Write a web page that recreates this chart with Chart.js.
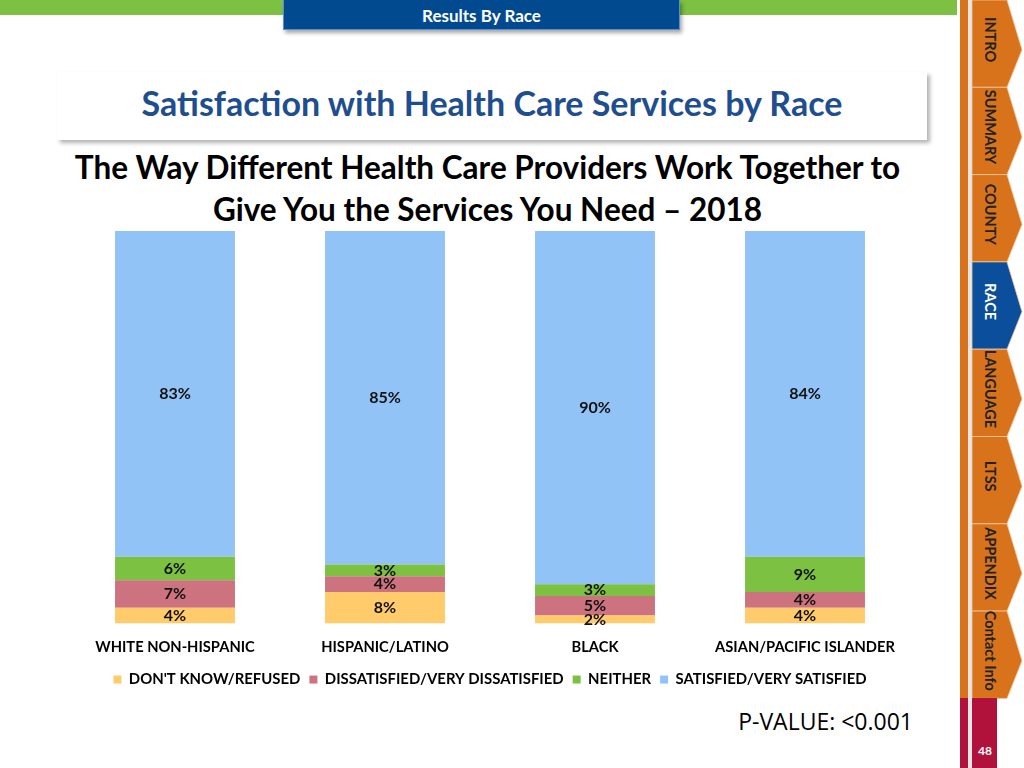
<!DOCTYPE html>
<html><head><meta charset="utf-8">
<script src="https://cdn.jsdelivr.net/npm/chart.js@4/dist/chart.umd.min.js"></script>
<style>
html,body{margin:0;padding:0;width:1024px;height:768px;overflow:hidden;background:#fff;font-family:Lato,"Open Sans",sans-serif;}
#greenbar{position:absolute;left:0;top:0;width:957px;height:15px;background:#7CC142;}
#banner{position:absolute;left:283px;top:0;width:397px;height:30px;background:#014A8F;color:#fff;font-weight:bold;font-size:17px;text-align:center;line-height:31px;box-shadow:2px 3px 4px rgba(0,0,0,0.35);border:1px solid #5a8fd0;border-top:none;box-sizing:border-box;}
#titlebox{position:absolute;left:57px;top:72px;width:870px;height:68px;background:#fff;box-shadow:3px 3px 4px rgba(0,0,0,0.3);}
#title{position:absolute;left:57px;top:83px;width:870px;text-align:center;color:#1F4E8F;font-weight:bold;font-size:34px;line-height:40px;}
#sub{position:absolute;left:30px;top:146px;width:915px;text-align:center;color:#000;font-weight:bold;font-size:31.5px;line-height:42px;}
#pval{position:absolute;left:700px;top:705px;width:213px;text-align:right;font-size:23px;color:#000;font-family:"Open Sans",Lato,sans-serif;}
#chartwrap{position:absolute;left:70px;top:227px;width:840px;height:470px;}
#side{position:absolute;left:955px;top:0;width:69px;height:768px;}
</style></head><body>
<div id="greenbar"></div>
<div id="banner">Results By Race</div>
<div id="titlebox"></div>
<div id="title">Satisfaction with Health Care Services by Race</div>
<div id="sub">The Way Different Health Care Providers Work Together to<br>Give You the Services You Need – 2018</div>
<div id="chartwrap"><canvas id="c"></canvas></div>
<div id="pval">P-VALUE: &lt;0.001</div>
<svg id="side" width="69" height="768" viewBox="955 0 69 768"></svg>
<script>
const categories = ["WHITE NON-HISPANIC","HISPANIC/LATINO","BLACK","ASIAN/PACIFIC ISLANDER"];
const seriesNames = ["DON'T KNOW/REFUSED","DISSATISFIED/VERY DISSATISFIED","NEITHER","SATISFIED/VERY SATISFIED"];
const dontKnow = [4, 8, 2, 4];
const dissatisfied = [7, 4, 5, 4];
const neither = [6, 3, 3, 9];
const satisfied = [83, 85, 90, 84];
const colors = ["#FFCB6B","#CD727F","#7CC142","#92C3F7"];
const tabs = ["INTRO","SUMMARY","COUNTY","RACE","LANGUAGE","LTSS","APPENDIX","Contact Info"];

// sidebar
(function(){
  const svg = document.getElementById('side');
  const tabH = 87.3;
  let html = '';
  html += `<rect x="960" y="0" width="8" height="700" fill="#D9731B"/>`;
  html += `<rect x="968" y="0" width="4" height="768" fill="#E6E6E6"/>`;
  tabs.forEach((t,i)=>{
    const y0 = i*tabH, y1 = y0+tabH;
    const col = t==="RACE" ? "#0B4F9C" : "#D9731B";
    html += `<polygon points="972,${y0} 1007,${y0} 1022,${y0+tabH*0.57} 1007,${y1} 972,${y1}" fill="${col}" stroke="#F2C9A0" stroke-width="0.8"/>`;
    const cy = y0 + tabH/2 - 4;
    const tc = t==="RACE" ? "#fff" : "#222";
    html += `<text x="0" y="0" transform="translate(985,${cy}) rotate(90)" text-anchor="middle" font-family="Lato,'Open Sans',sans-serif" font-weight="bold" font-size="14.5" fill="${tc}">${t}</text>`;
  });
  html += `<rect x="960" y="698" width="8" height="70" fill="#B0123B"/>`;
  html += `<rect x="972" y="698" width="25" height="70" fill="#B0123B"/>`;
  html += `<text x="985" y="755" text-anchor="middle" font-family="Lato,sans-serif" font-weight="bold" font-size="12" fill="#fff">48</text>`;
  svg.innerHTML = html;
})();

const labelPlugin = {
  id:'segLabels',
  afterDatasetsDraw(chart){
    const ctx = chart.ctx;
    ctx.save();
    ctx.font = "bold 16px Lato, 'Open Sans', sans-serif";
    ctx.fillStyle = "#111";
    ctx.textAlign = "center";
    ctx.textBaseline = "middle";
    chart.data.datasets.forEach((ds,di)=>{
      const meta = chart.getDatasetMeta(di);
      meta.data.forEach((bar,i)=>{
        const top = Math.max(bar.y, chart.chartArea.top);
        const cy = (top + bar.base)/2;
        ctx.fillText(ds.data[i] + "%", bar.x, cy);
      });
    });
    ctx.restore();
  }
};

new Chart(document.getElementById('c'), {
  type:'bar',
  data:{
    labels:categories,
    datasets:[
      {label:seriesNames[0], data:dontKnow, backgroundColor:colors[0]},
      {label:seriesNames[1], data:dissatisfied, backgroundColor:colors[1]},
      {label:seriesNames[2], data:neither, backgroundColor:colors[2]},
      {label:seriesNames[3], data:satisfied, backgroundColor:colors[3]}
    ]
  },
  options:{
    responsive:true, maintainAspectRatio:false, animation:false,
    layout:{padding:{top:4,left:0,right:0,bottom:0}},
    datasets:{bar:{categoryPercentage:1, barPercentage:0.571, borderWidth:0}},
    scales:{
      x:{stacked:true, grid:{display:false}, border:{display:false},
         ticks:{color:"#000", font:{family:"Lato, 'Open Sans', sans-serif", weight:"bold", size:14.7}, padding:7}},
      y:{stacked:true, display:false, min:0, max:100}
    },
    plugins:{
      legend:{position:'bottom', labels:{boxWidth:8, boxHeight:8, color:"#000", padding:9,
        font:{family:"Lato, 'Open Sans', sans-serif", weight:"bold", size:14.9}}},
      tooltip:{enabled:false}
    }
  },
  plugins:[labelPlugin]
});
</script>
</body></html>
